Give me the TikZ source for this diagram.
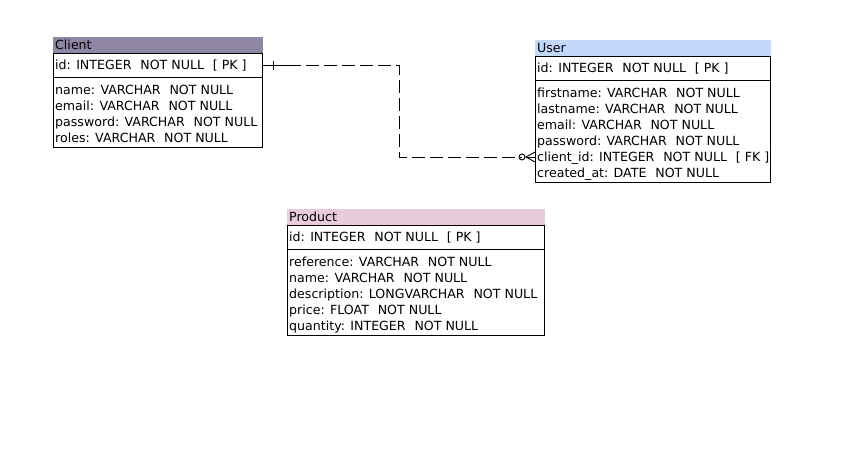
\documentclass[tikz,border=0pt]{standalone}
\usepackage{fontspec}
\setmainfont{DejaVu Sans}
\definecolor{clienthdr}{RGB}{143,133,165}
\definecolor{userhdr}{RGB}{193,216,250}
\definecolor{producthdr}{RGB}{232,204,218}
\tikzset{
  txt/.style={anchor=base west,inner sep=0pt,font=\fontsize{12.6}{13}\selectfont},
  tbox/.style={draw=black,line width=0.9pt},
  rel/.style={line width=0.9pt,dash pattern=on 13pt off 5pt},
}
\newcommand{\gap}{\hspace{0.7em}}
\begin{document}
\begin{tikzpicture}[x=1pt,y=-1pt]
\useasboundingbox (0,0) rectangle (841,455);
% ---------- Client ----------
\fill[clienthdr] (53,37) rectangle (263,53);
\node[txt] (chead) at (55,49) {Client};
\draw[tbox] (53.5,53.5) rectangle (262.5,147.5);
\draw[tbox] (53.5,77) -- (262.5,77);
\node[txt] (c0) at (55,69) {id: INTEGER\gap NOT NULL\gap[ PK ]};
\node[txt] (c1) at (55,94) {name: VARCHAR\gap NOT NULL};
\node[txt] (c2) at (55,110) {email: VARCHAR\gap NOT NULL};
\node[txt] (c3) at (55,126) {password: VARCHAR\gap NOT NULL};
\node[txt] (c4) at (55,142) {roles: VARCHAR\gap NOT NULL};
% ---------- User ----------
\fill[userhdr] (535,40) rectangle (771,56);
\node[txt] (uhead) at (537,52) {User};
\draw[tbox] (535.5,56.5) rectangle (770.5,182.5);
\draw[tbox] (535.5,80) -- (770.5,80);
\node[txt] (u0) at (537,72) {id: INTEGER\gap NOT NULL\gap[ PK ]};
\node[txt] (u1) at (537,97) {firstname: VARCHAR\gap NOT NULL};
\node[txt] (u2) at (537,113) {lastname: VARCHAR\gap NOT NULL};
\node[txt] (u3) at (537,129) {email: VARCHAR\gap NOT NULL};
\node[txt] (u4) at (537,145) {password: VARCHAR\gap NOT NULL};
\node[txt] (u5) at (537,161) {client\_id: INTEGER\gap NOT NULL\gap[ FK ]};
\node[txt] (u6) at (537,177) {created\_at: DATE\gap NOT NULL};
% ---------- Product ----------
\fill[producthdr] (287,209) rectangle (545,225);
\node[txt] (phead) at (289,221) {Product};
\draw[tbox] (287.5,225.5) rectangle (544.5,335.5);
\draw[tbox] (287.5,249) -- (544.5,249);
\node[txt] (p0) at (289,241) {id: INTEGER\gap NOT NULL\gap[ PK ]};
\node[txt] (p1) at (289,266) {reference: VARCHAR\gap NOT NULL};
\node[txt] (p2) at (289,282) {name: VARCHAR\gap NOT NULL};
\node[txt] (p3) at (289,298) {description: LONGVARCHAR\gap NOT NULL};
\node[txt] (p4) at (289,314) {price: FLOAT\gap NOT NULL};
\node[txt] (p5) at (289,330) {quantity: INTEGER\gap NOT NULL};
% ---------- relation ----------
\coordinate (cid) at (262.5,65);
\coordinate (ufk) at (535,157);
\coordinate (bend1) at (399,65);
\coordinate (bend2) at (399,157);
\coordinate (solidend) at (288,65);
\coordinate (tick) at (273,65);
\coordinate (circ) at (522,157);
\coordinate (apex) at (526,157);
\draw[line width=0.9pt] (cid) -- (solidend);
\draw[line width=0.9pt] ([yshift=-4.5pt]tick) -- ([yshift=4.5pt]tick);
\draw[rel] (solidend) -- (bend1) -- (bend2) -- (circ);
\draw[line width=0.9pt] (circ) circle (3);
\draw[line width=0.9pt] ([yshift=-5pt]ufk) -- (apex) -- ([yshift=5pt]ufk);
\draw[line width=0.9pt] (apex) -- (ufk);
\end{tikzpicture}
\end{document}
